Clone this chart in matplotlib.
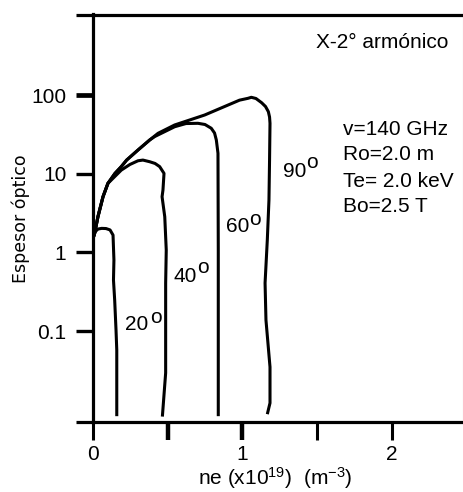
import matplotlib
matplotlib.use('Agg')
import matplotlib.pyplot as plt
from matplotlib.ticker import NullLocator

plt.rcParams['font.family'] = ['Liberation Sans', 'DejaVu Sans']
plt.rcParams['mathtext.fontset'] = 'custom'
plt.rcParams['mathtext.rm'] = 'Liberation Sans'
plt.rcParams['mathtext.it'] = 'Liberation Sans:italic'
plt.rcParams['mathtext.bf'] = 'Liberation Sans:bold'

# ---------------- data (ne in 1e19 m^-3, optical depth) ----------------
ne_20 = [0.0, 0.013, 0.033, 0.058, 0.087, 0.114, 0.134, 0.140, 0.137, 0.145, 0.154, 0.159, 0.159]
tau_20 = [1.5, 1.82, 1.98, 2.02, 2.01, 1.93, 1.66, 0.80, 0.446, 0.248, 0.103, 0.0575, 0.0083]

ne_40 = [0.0, 0.011, 0.033, 0.067, 0.10, 0.122, 0.189, 0.247, 0.301, 0.334, 0.379, 0.415,
         0.446, 0.475, 0.468, 0.462, 0.48, 0.49, 0.486, 0.486, 0.464]
tau_40 = [1.5, 1.75, 2.84, 5.1, 7.55, 8.3, 11.1, 13.1, 14.6, 14.9, 14.2, 13.5,
          12.3, 10.1, 6.2, 5.1, 2.84, 1.07, 0.405, 0.0294, 0.0082]

ne_60 = [0.0, 0.011, 0.033, 0.067, 0.10, 0.147, 0.189, 0.225, 0.301, 0.379, 0.412, 0.546,
         0.622, 0.702, 0.749, 0.791, 0.813, 0.825, 0.836, 0.838, 0.838]
tau_60 = [1.5, 1.75, 2.84, 5.1, 7.55, 10.1, 12.3, 14.9, 20.0, 26.8, 29.6, 39.5,
          43.4, 43.7, 42.2, 37.8, 32.9, 26.8, 18.2, 1.07, 0.0083]

ne_90 = [0.0, 0.011, 0.033, 0.067, 0.10, 0.147, 0.189, 0.225, 0.301, 0.379, 0.435, 0.546,
         0.747, 0.98, 1.037, 1.059, 1.09, 1.128, 1.154, 1.173, 1.181, 1.184, 1.181, 1.177,
         1.166, 1.151, 1.157, 1.184, 1.184, 1.166]
tau_90 = [1.5, 1.75, 2.84, 5.1, 7.55, 10.1, 12.3, 14.9, 20.0, 26.8, 32.6, 41.6,
          55.7, 86.0, 90.8, 93.5, 90.3, 79.8, 71.4, 61.4, 52.5, 43.7, 14.9, 4.63,
          1.44, 0.408, 0.138, 0.035, 0.0122, 0.0088]

angle_labels = ['20', '40', '60', '90']
y_ticks = [0.1, 1, 10, 100]
y_tick_labels = ['0.1', '1', '10', '100']
x_ticks = [0, 1, 2]
x_tick_labels = ['0', '1', '2']
x_minor_ticks = [0.5, 1.5]
params_text = ['v=140 GHz', 'Ro=2.0 m', 'Te= 2.0 keV', 'Bo=2.5 T']
title_text = 'X-2° armónico'
ylabel_text = 'Espesor óptico'
xlabel_text = r'ne (x10$^{\mathregular{19}}$)  (m$^{\mathregular{-3}}$)'

# ---------------- figure ----------------
W, H = 464, 492
fig = plt.figure(figsize=(W / 100, H / 100), dpi=100)
L, R, T, B = 93, 463, 14.5, 422
ax = fig.add_axes([L / W, 1 - B / H, (R - L) / W, (B - T) / H])
ax.set_yscale('log')
ax.set_xlim(0, 2.475)
ax.set_ylim(10 ** -2.155, 10 ** 3.023)

for xs, ys in [(ne_20, tau_20), (ne_40, tau_40), (ne_60, tau_60), (ne_90, tau_90)]:
    ax.plot(xs, ys, color='k', lw=2.2, solid_joinstyle='round', solid_capstyle='butt')

for s in ['left', 'top', 'bottom']:
    ax.spines[s].set_linewidth(2.3)
ax.spines['right'].set_color('#d9d9d9')
ax.spines['right'].set_linewidth(0.8)

ext = 17 / (R - L)
for yy in (0, 1):
    ax.plot([-ext, 0], [yy, yy], transform=ax.transAxes, clip_on=False,
            color='k', lw=2.3, solid_capstyle='butt')

ax.set_yticks(y_ticks)
ax.set_yticklabels(y_tick_labels)
ax.yaxis.set_minor_locator(NullLocator())
ax.tick_params(axis='y', which='major', direction='out', length=12.2, width=2.4,
               pad=7, labelsize=15)
ax.yaxis.get_major_ticks()[3].tick1line.set_markeredgewidth(3.4)

ax.set_xticks(x_ticks)
ax.set_xticklabels(x_tick_labels)
ax.set_xticks(x_minor_ticks, minor=True)
ax.tick_params(axis='x', which='both', direction='out', length=13, width=2.2,
               pad=3.5, labelsize=15)
ax.xaxis.get_major_ticks()[1].tick1line.set_markeredgewidth(3.2)
ax.xaxis.get_minor_ticks()[0].tick1line.set_markeredgewidth(3.2)


def ftext(x, y, s, **kw):
    return fig.text(x / W, 1 - y / H, s, **kw)


ftext(316, 48.3, title_text, ha='left', va='baseline', fontsize=15)
for s, yb in zip(params_text, [135, 160, 186.7, 211.7]):
    ftext(343.3, yb, s, ha='left', va='baseline', fontsize=15)

digit_pos = [(125, 330), (173.3, 281.7), (226.3, 231.7), (283.3, 177)]
o_pos = [(150, 322.7), (196.7, 273.3), (248.7, 225), (306, 168.3)]
for lab, (dx, dy), (ox, oy) in zip(angle_labels, digit_pos, o_pos):
    ftext(dx, dy, lab, ha='left', va='baseline', fontsize=15)
    ftext(ox, oy, 'o', ha='left', va='baseline', fontsize=15)

ftext(20.5, 219, ylabel_text, rotation=90, ha='center', va='center', fontsize=12.5,
      family=['DejaVu Sans'])
ftext(275.5, 491, xlabel_text, ha='center', va='bottom', fontsize=15)

fig.savefig('out.png', dpi=100)
